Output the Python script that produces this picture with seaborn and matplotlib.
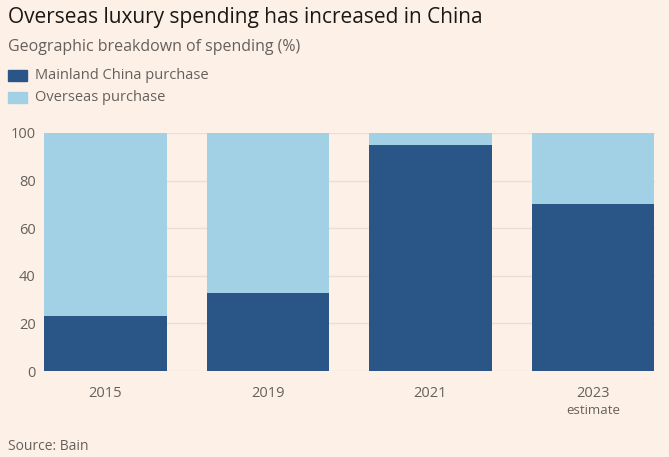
import matplotlib
matplotlib.use("Agg")
import matplotlib.pyplot as plt
import seaborn as sns
import pandas as pd
from matplotlib.patches import Rectangle

years = ["2015", "2019", "2021", "2023"]
mainland = [23, 33, 95, 70]
overseas = [77, 67, 5, 30]
yticks = [0, 20, 40, 60, 80, 100]

BG = "#FDF1E7"
DARK = "#2A5587"
LIGHT = "#A2D1E6"
GRID = "#EADFD4"
TXT = "#66605C"

sns.set_theme(style="white")
plt.rcParams["font.family"] = ["Open Sans", "DejaVu Sans"]

df = pd.DataFrame({"year": years, "mainland": mainland, "overseas": overseas})
df["total"] = df["mainland"] + df["overseas"]

fig = plt.figure(figsize=(6.69, 4.57), dpi=100, facecolor=BG)
ax = fig.add_axes([0.0658, 0.188, 0.913, 0.521])
ax.set_facecolor(BG)

for y in yticks:
    ax.axhline(y, color=GRID, lw=1, zorder=0)

sns.barplot(data=df, x="year", y="total", color=LIGHT, width=0.753, ax=ax,
            saturation=1, zorder=2, linewidth=0)
sns.barplot(data=df, x="year", y="mainland", color=DARK, width=0.753, ax=ax,
            saturation=1, zorder=3, linewidth=0)

ax.set_xlim(-0.377, 3.38)
ax.set_ylim(0, 100)
ax.set_yticks(yticks)
ax.set_yticklabels([str(v) for v in yticks])
ax.set_xlabel("")
ax.set_ylabel("")
for s in ax.spines.values():
    s.set_visible(False)
ax.tick_params(axis="y", length=0, labelsize=10.5, labelcolor=TXT, pad=6)
ax.tick_params(axis="x", length=5, width=0.8, color="#D8CEC4", labelsize=10.5,
               labelcolor=TXT, pad=6, direction="out")
ax.set_xticks(range(len(years)))
ax.set_xticklabels(years)
ax.text(3, -14.0, "estimate", ha="center", va="top", fontsize=9.5, color=TXT,
        transform=ax.transData)

fig.text(0.012, 0.962, "Overseas luxury spending has increased in China",
         fontsize=15, color="#1A1817", va="center", ha="left")
fig.text(0.012, 0.897, "Geographic breakdown of spending (%)",
         fontsize=11.5, color=TXT, va="center", ha="left")

for i, (lab, col) in enumerate([("Mainland China purchase", DARK),
                                ("Overseas purchase", LIGHT)]):
    yc = 0.834 - i * 0.048
    fig.patches.append(Rectangle((0.012, yc - 0.012), 0.028, 0.024,
                                 transform=fig.transFigure, color=col))
    fig.text(0.052, yc, lab, fontsize=10.5, color=TXT, va="center", ha="left")

fig.text(0.012, 0.022, "Source: Bain", fontsize=10, color=TXT, va="center",
         ha="left")

fig.savefig("out.png", dpi=100, facecolor=BG)
